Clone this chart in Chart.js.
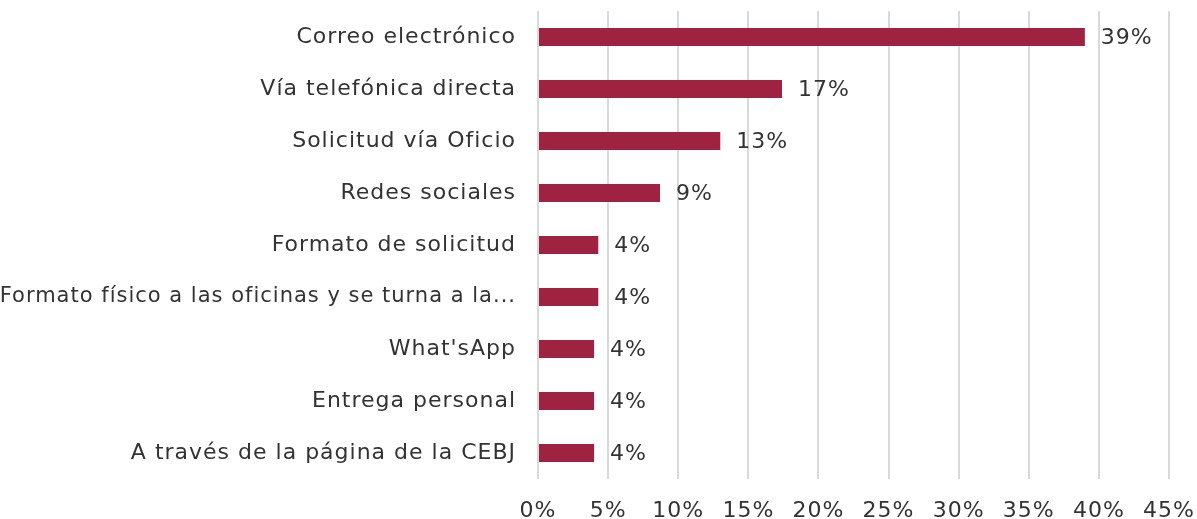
<!DOCTYPE html>
<html>
<head>
<meta charset="utf-8">
<script src="https://cdn.jsdelivr.net/npm/chart.js@4"></script>
<style>
  html, body { margin: 0; padding: 0; background: #fff; }
  #wrap { width: 1197px; height: 519px; position: relative; }
</style>
</head>
<body>
<div id="wrap"><canvas id="chart"></canvas></div>
<script>
// Datos del gráfico
const categories = [
  'Correo electrónico',
  'Vía telefónica directa',
  'Solicitud vía Oficio',
  'Redes sociales',
  'Formato de solicitud',
  'Formato físico a las oficinas y se turna a la...',
  "What'sApp",
  'Entrega personal',
  'A través de la página de la CEBJ'
];
const values = [39.0, 17.4, 13.0, 8.7, 4.3, 4.3, 4.0, 4.0, 4.0];
const xTicks = [0, 5, 10, 15, 20, 25, 30, 35, 40, 45];

const fontFamily = "'DejaVu Sans', sans-serif";
const fontSize = 22;
const textColor = '#333333';

// Espaciado de letras para acercarse al ancho de la fuente original
const letterSpacing = {
  id: 'letterSpacing',
  beforeDraw(chart) {
    chart.ctx.letterSpacing = '1px';
  }
};

// Etiquetas de valor al final de cada barra
const valueLabels = {
  id: 'valueLabels',
  afterDatasetsDraw(chart) {
    const ctx = chart.ctx;
    const meta = chart.getDatasetMeta(0);
    ctx.save();
    ctx.font = fontSize + 'px ' + fontFamily;
    ctx.fillStyle = textColor;
    ctx.textAlign = 'left';
    ctx.textBaseline = 'middle';
    meta.data.forEach((bar, i) => {
      ctx.fillText(Math.round(values[i]) + '%', bar.x + 16, bar.y + 1);
    });
    ctx.restore();
  }
};

const ctx = document.getElementById('chart').getContext('2d');
new Chart(ctx, {
  type: 'bar',
  data: {
    labels: categories,
    datasets: [{
      data: values,
      backgroundColor: '#9f2241',
      borderWidth: 0,
      barPercentage: 0.7,
      categoryPercentage: 0.5
    }]
  },
  options: {
    indexAxis: 'y',
    responsive: true,
    maintainAspectRatio: false,
    animation: false,
    layout: { padding: { top: 11, right: 28, bottom: 0, left: 0 } },
    plugins: {
      legend: { display: false },
      tooltip: { enabled: false }
    },
    scales: {
      x: {
        min: 0,
        max: 45,
        afterBuildTicks: s => { s.ticks = xTicks.map(v => ({ value: v })); },
        afterFit: s => { s.height = 40; s.paddingLeft = 0; s.paddingRight = 0; },
        ticks: {
          callback: v => v + '%',
          color: textColor,
          font: { family: fontFamily, size: fontSize },
          padding: 19,
          maxRotation: 0
        },
        grid: { color: '#d9d9d9', lineWidth: 2, drawTicks: false },
        border: { display: false }
      },
      y: {
        afterFit: s => { s.width = 538; s.paddingTop = 0; s.paddingBottom = 0; },
        ticks: {
          color: textColor,
          // la etiqueta larga va un poco más pequeña para que quepa
          font: c => ({
            family: fontFamily,
            size: categories[c.index] && categories[c.index].length > 40 ? 21 : fontSize
          }),
          padding: 14,
          autoSkip: false
        },
        grid: { display: false },
        border: { display: false }
      }
    }
  },
  plugins: [letterSpacing, valueLabels]
});
</script>
</body>
</html>
